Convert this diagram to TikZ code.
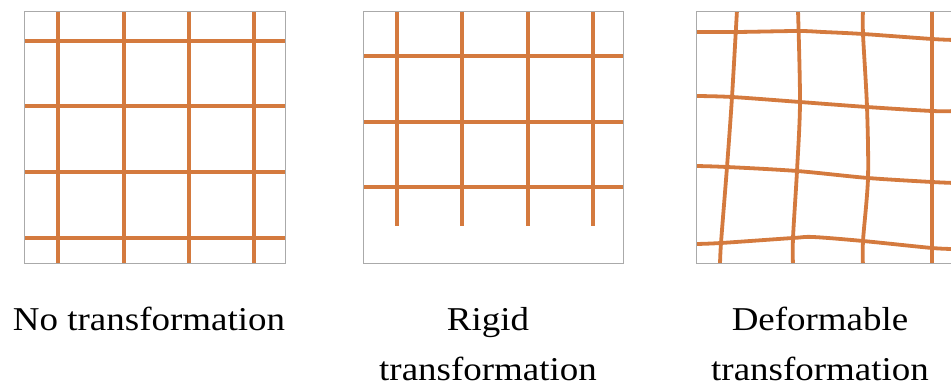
\documentclass[tikz,border=0pt]{standalone}
\usepackage{fontspec}
\setmainfont[FakeStretch=1.11]{Liberation Serif}
\definecolor{gridor}{RGB}{212,122,62}
\definecolor{framegray}{RGB}{170,170,170}
\begin{document}
\begin{tikzpicture}[x=1pt,y=-1pt,
  gline/.style={draw=gridor,line width=3.8pt},
  framebox/.style={draw=framegray,line width=1pt},
  caption/.style={font=\fontsize{33.3}{50}\selectfont, align=center, anchor=base, inner sep=0pt}]
\useasboundingbox (0,0) rectangle (951,387);

% Panel 1: no transformation
\foreach \x in {58,124,189,254} \draw[gline] (\x,12) -- (\x,264);
\foreach \y in {41,106,172,238} \draw[gline] (24,\y) -- (285,\y);
\draw[framebox] (24,12) rectangle (285,264);

% Panel 2: rigid transformation
\foreach \x in {397,462,528,593} \draw[gline] (\x,12) -- (\x,226);
\foreach \y in {56,122,187} \draw[gline] (363,\y) -- (623,\y);
\draw[framebox] (363,12) rectangle (623,264);

% Panel 3: deformable transformation
\begin{scope}
\clip (696,12) rectangle (951,264);
\draw[gline] plot[smooth,tension=0.5] coordinates {(696,32) (737,32) (798,31) (823,32) (863,34) (932,39) (955,40)};
\draw[gline] plot[smooth,tension=0.5] coordinates {(696,96) (732,97) (800,102) (867,107) (932,111) (955,111)};
\draw[gline] plot[smooth,tension=0.5] coordinates {(696,166) (727,167) (797,171) (868,178) (932,182) (955,183)};
\draw[gline] plot[smooth,tension=0.5] coordinates {(696,244) (721,243) (793,238) (813,237) (863,241) (932,248) (955,249)};
\draw[gline] plot[smooth,tension=0.5] coordinates {(737,10) (732,97) (727,167) (721,243) (720,266)};
\draw[gline] plot[smooth,tension=0.5] coordinates {(798,10) (800,102) (797,171) (793,238) (793,266)};
\draw[gline] plot[smooth,tension=0.5] coordinates {(863,10) (863,34) (867,107) (868,178) (863,241) (863,266)};
\draw[gline] (932,10) -- (932,266);
\end{scope}
\draw[framebox] (952,12) -- (696,12) -- (696,264) -- (952,264);

% Captions
\node[caption] (c1) at (149,331) {No transformation};
\node[caption] (c2) at (488,381) {Rigid\\transformation};
\node[caption] (c3) at (820,381) {Deformable\\transformation};
\end{tikzpicture}
\end{document}
